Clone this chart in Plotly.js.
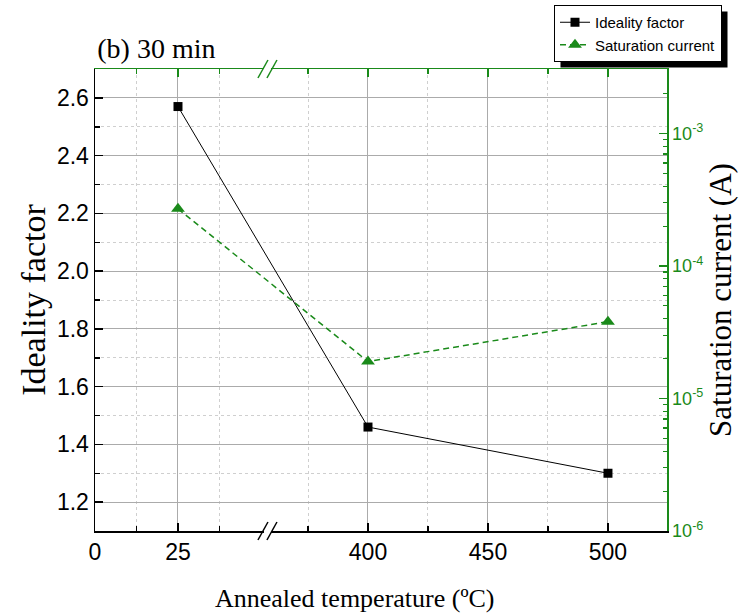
<!DOCTYPE html>
<html>
<head>
<meta charset="utf-8">
<script src="https://cdn.plot.ly/plotly-3.0.1.min.js"></script>
<style>
  html, body { margin: 0; padding: 0; background: #fff; }
  #chart { width: 747px; height: 616px; }
</style>
</head>
<body>
<div id="chart"></div>
<script>
// Annealing temperatures (°C) and measured diode parameters
const temperatures = [25, 400, 500];
const idealityFactor = [2.57, 1.46, 1.30];
const saturationCurrent = [2.7e-4, 1.9e-5, 3.8e-5];

// Bottom-axis labels
const xTickValues = [0, 25, 400, 450, 500];
const xTickLabels = ['0', '25', '400', '450', '500'];
const xMinorValues = [12.5, 37.5, 375, 425, 475];

// Right-axis (log) labels
const currentTickValues = [1e-6, 1e-5, 1e-4, 1e-3];
const currentTickLabels = ['10<sup>-6</sup>', '10<sup>-5</sup>', '10<sup>-4</sup>', '10<sup>-3</sup>'];

// Broken temperature axis: 0–51.8 drawn at full scale, then a gap,
// then 357.9–524.6 compressed so both segments share one plot width.
const LOW_END = 51.8;
const HIGH_START = 357.9;
const HIGH_SCALE = 2.4 / 3.32;
const X_MAX = 524.6;
function brokenX(t) {
  return t <= LOW_END ? t : LOW_END + (t - HIGH_START) * HIGH_SCALE;
}

const GREEN = '#1a8a1a';
const SANS = 'Liberation Sans, Arial, sans-serif';
const SERIF = 'Liberation Serif, Times New Roman, serif';

// Log-axis minor ticks (2..9 per decade)
const currentMinor = [];
for (let e = -6; e <= -3; e++) {
  for (let m = 2; m <= 9; m++) {
    const v = m * Math.pow(10, e);
    if (v < 3.0e-3) currentMinor.push(v);
  }
}

const xPos = temperatures.map(brokenX);
const xRange = [0, brokenX(X_MAX)];

const traces = [
  {
    x: xPos, y: idealityFactor, xaxis: 'x', yaxis: 'y',
    name: 'Ideality factor', type: 'scatter', mode: 'lines+markers',
    line: { color: '#000', width: 1 },
    marker: { symbol: 'square', size: 9, color: '#000' }
  },
  {
    x: xPos, y: saturationCurrent, xaxis: 'x2', yaxis: 'y2',
    name: 'Saturation current', type: 'scatter', mode: 'lines+markers',
    line: { color: GREEN, width: 1.5, dash: '6px,4px' },
    marker: { symbol: 'triangle-up', size: 12, color: GREEN }
  }
];

// "//" axis-break marks drawn over the bottom (black) and top (green) axes
const breakX = LOW_END;
function breakMarks(yAnchor, color) {
  return [
    { type: 'line', xref: 'x', yref: 'paper', xsizemode: 'pixel', ysizemode: 'pixel',
      xanchor: breakX, yanchor: yAnchor, x0: -3, x1: 4, y0: 0, y1: 0,
      line: { color: '#fff', width: 4 }, layer: 'above' },
    { type: 'line', xref: 'x', yref: 'paper', xsizemode: 'pixel', ysizemode: 'pixel',
      xanchor: breakX, yanchor: yAnchor, x0: -9, x1: 1, y0: -9, y1: 9,
      line: { color: color, width: 1.5 }, layer: 'above' },
    { type: 'line', xref: 'x', yref: 'paper', xsizemode: 'pixel', ysizemode: 'pixel',
      xanchor: breakX, yanchor: yAnchor, x0: 0, x1: 10, y0: -9, y1: 9,
      line: { color: color, width: 1.5 }, layer: 'above' }
  ];
}

const W = 572, H = 462, L = 95, T = 69;
const px = v => (v - L) / W;
const py = v => (T + H - v) / H;

const layout = {
  width: 747, height: 616,
  margin: { l: L, r: 747 - L - W, t: T, b: 616 - T - H, autoexpand: false },
  paper_bgcolor: '#fff', plot_bgcolor: '#fff',
  showlegend: true,
  title: {
    text: '(b) 30 min', font: { family: SERIF, size: 28, color: '#000' },
    xref: 'paper', x: 0.004, xanchor: 'left',
    yref: 'container', y: 1 - 48 / 616, yanchor: 'middle'
  },
  legend: {
    x: px(554), y: py(5), xanchor: 'left', yanchor: 'top',
    bgcolor: '#fff', bordercolor: '#000', borderwidth: 1,
    font: { family: SANS, size: 15, color: '#000' },
    tracegroupgap: 0
  },
  annotations: [
    { text: 'Annealed temperature (ºC)', xref: 'paper', yref: 'paper',
      x: px(355), y: py(598), xanchor: 'center', yanchor: 'middle', showarrow: false,
      font: { family: SERIF, size: 26, color: '#000' } }
  ],
  xaxis: {
    range: xRange, showline: true, linecolor: '#000', linewidth: 1.5,
    tickmode: 'array', tickvals: xTickValues.map(brokenX), ticktext: xTickLabels,
    ticks: 'inside', ticklen: 8, tickwidth: 1.5, tickcolor: '#000',
    tickfont: { family: SANS, size: 23, color: '#000' },
    showgrid: true, gridcolor: '#ababab', gridwidth: 1, zeroline: false,
    minor: {
      tickmode: 'array', tickvals: xMinorValues.map(brokenX),
      ticks: 'inside', ticklen: 5, tickwidth: 1.5, tickcolor: '#000',
      showgrid: true, gridcolor: '#cfcfcf', griddash: 'dot', gridwidth: 1
    }
  },
  xaxis2: {
    range: xRange, overlaying: 'x', side: 'top', anchor: 'y2',
    showline: true, linecolor: GREEN, linewidth: 1.5,
    tickmode: 'array', tickvals: xTickValues.map(brokenX), showticklabels: false,
    ticks: 'inside', ticklen: 8, tickwidth: 1.5, tickcolor: GREEN,
    showgrid: false, zeroline: false,
    minor: {
      tickmode: 'array', tickvals: xMinorValues.map(brokenX),
      ticks: 'inside', ticklen: 5, tickwidth: 1.5, tickcolor: GREEN, showgrid: false
    }
  },
  yaxis: {
    range: [1.1, 2.7], showline: true, linecolor: '#000', linewidth: 1.5,
    tickmode: 'linear', tick0: 1.2, dtick: 0.2, tickformat: '.1f',
    ticks: 'inside', ticklen: 8, tickwidth: 1.5, tickcolor: '#000',
    tickfont: { family: SANS, size: 23, color: '#000' },
    showgrid: true, gridcolor: '#ababab', gridwidth: 1, zeroline: false,
    minor: {
      tickmode: 'linear', tick0: 1.1, dtick: 0.1,
      ticks: 'inside', ticklen: 5, tickwidth: 1.5, tickcolor: '#000',
      showgrid: true, gridcolor: '#cfcfcf', griddash: 'dot', gridwidth: 1
    },
    title: { text: 'Ideality factor', font: { family: SERIF, size: 34, color: '#000' }, standoff: 1 }
  },
  yaxis2: {
    type: 'log', range: [-6, -2.513], overlaying: 'y', side: 'right', anchor: 'x2',
    showline: true, linecolor: GREEN, linewidth: 1.5,
    tickmode: 'array', tickvals: currentTickValues, ticktext: currentTickLabels,
    ticks: 'inside', ticklen: 8, tickwidth: 1.5, tickcolor: GREEN,
    tickfont: { family: SANS, size: 18, color: GREEN },
    showgrid: false, zeroline: false,
    minor: {
      tickmode: 'array', tickvals: currentMinor,
      ticks: 'inside', ticklen: 4, tickwidth: 1.2, tickcolor: GREEN, showgrid: false
    },
    title: { text: 'Saturation current (A)', font: { family: SERIF, size: 31, color: '#000' }, standoff: 3 }
  },
  shapes: [].concat(breakMarks(0, '#000'), breakMarks(1, GREEN))
};

Plotly.newPlot('chart', traces, layout, { displayModeBar: false, staticPlot: true }).then(gd => {
  // Drop shadow behind the legend box, offset down-right
  const bg = gd.querySelector('.legend .bg');
  const host = gd.getBoundingClientRect();
  if (!bg) return;
  const r = bg.getBoundingClientRect();
  const x0 = r.left - host.left + 6, x1 = r.right - host.left + 6;
  const y0 = r.top - host.top + 6, y1 = r.bottom - host.top + 6;
  const shadow = {
    type: 'rect', xref: 'paper', yref: 'paper',
    x0: px(x0), x1: px(x1), y0: py(y1), y1: py(y0),
    fillcolor: '#000', line: { width: 0 }, layer: 'below'
  };
  return Plotly.relayout(gd, { shapes: [shadow].concat(layout.shapes) });
});
</script>
</body>
</html>
